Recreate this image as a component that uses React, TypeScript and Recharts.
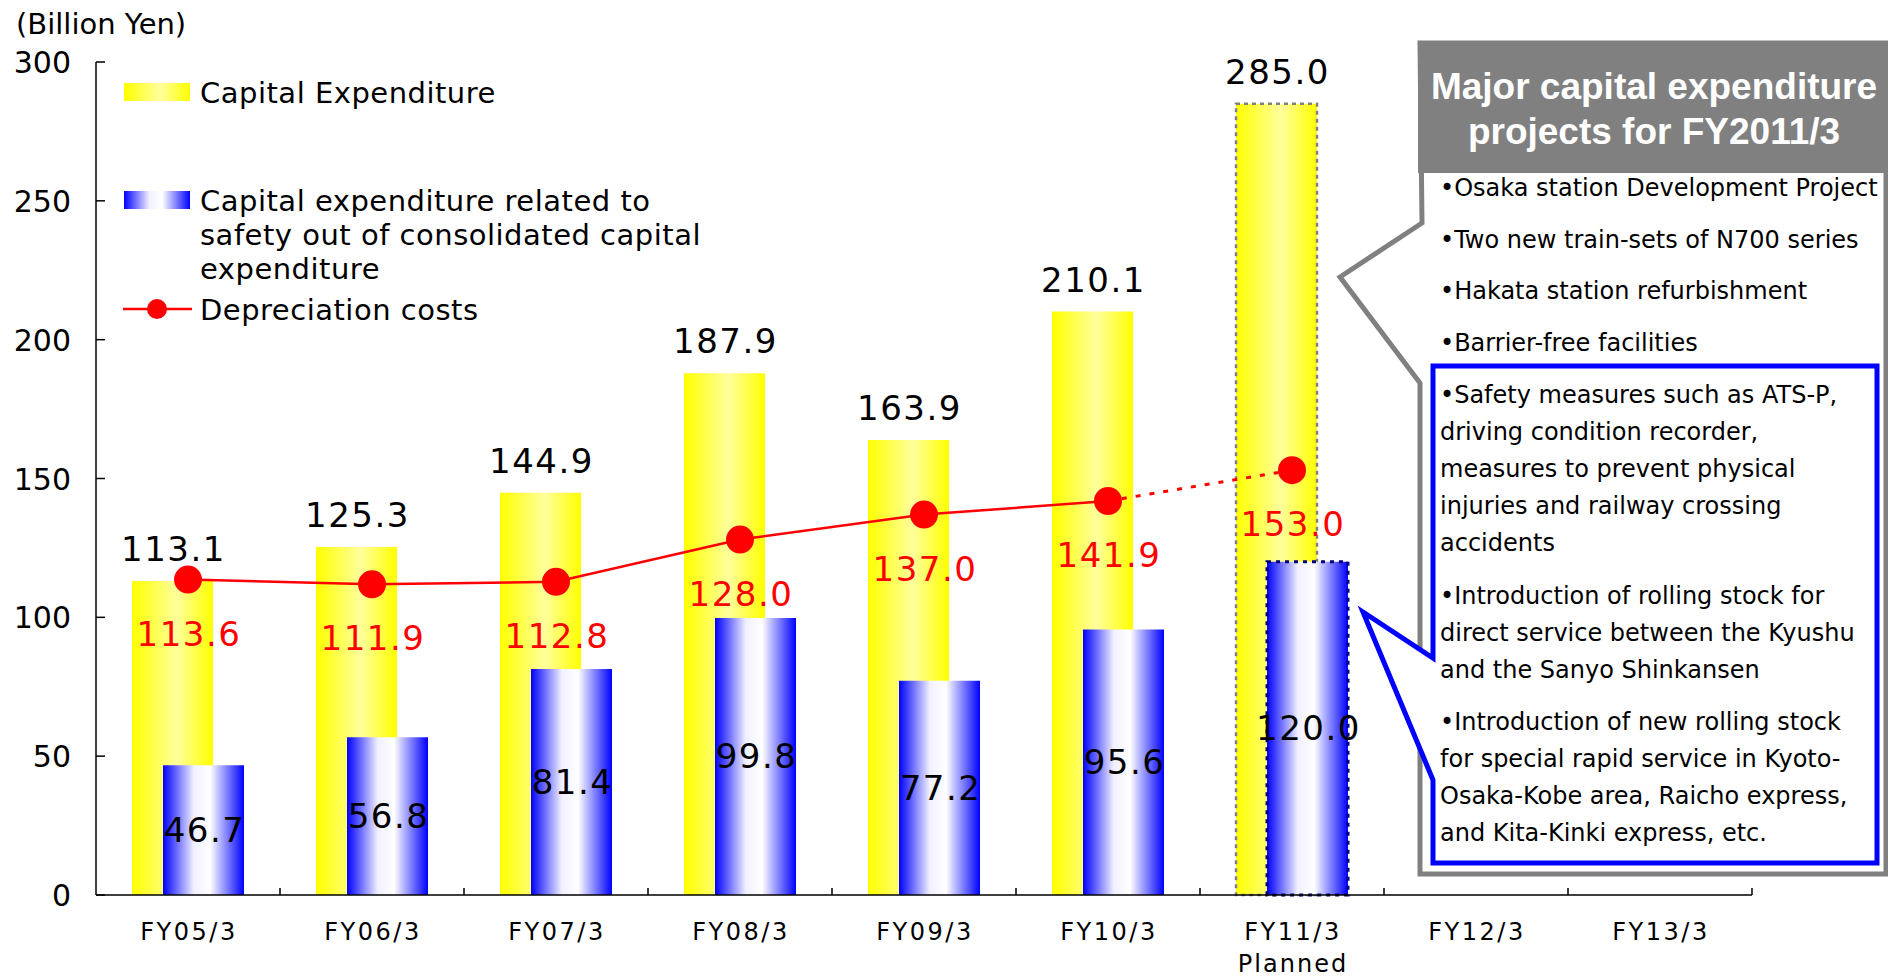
import React from 'react';
import { ComposedChart, Bar, Line, XAxis, YAxis, Cell, LabelList, Legend } from 'recharts';

const FONT = "'DejaVu Sans', Verdana, sans-serif";

// ---------- data ----------
const categories = ['FY05/3', 'FY06/3', 'FY07/3', 'FY08/3', 'FY09/3', 'FY10/3', 'FY11/3', 'FY12/3', 'FY13/3'];
const categorySubLabels = ['', '', '', '', '', '', 'Planned', '', ''];
const capex = [113.1, 125.3, 144.9, 187.9, 163.9, 210.1, 285.0, null, null];
const safetyCapex = [46.7, 56.8, 81.4, 99.8, 77.2, 95.6, 120.0, null, null];
const depreciation = [113.6, 111.9, 112.8, 128.0, 137.0, 141.9, 153.0, null, null];
const plannedFlags = [false, false, false, false, false, false, true, false, false];
const yTicks = [0, 50, 100, 150, 200, 250, 300];

const unitLabel = '(Billion Yen)';
const capexName = 'Capital Expenditure';
const safetyNameLines = ['Capital expenditure related to', 'safety out of consolidated capital', 'expenditure'];
const depName = 'Depreciation costs';

const panelTitle = ['Major capital expenditure', 'projects for FY2011/3'];
const panelGeneral = [
  '\u2022Osaka station Development Project',
  '\u2022Two new train-sets of N700 series',
  '\u2022Hakata station refurbishment',
  '\u2022Barrier-free facilities',
];
const panelSafety = [
  ['\u2022Safety measures such as ATS-P,', 'driving condition recorder,', 'measures to prevent physical', 'injuries and railway crossing', 'accidents'],
  ['\u2022Introduction of rolling stock for', 'direct service between the Kyushu', 'and the Sanyo Shinkansen'],
  ['\u2022Introduction of new rolling stock', 'for special rapid service in Kyoto-', 'Osaka-Kobe area, Raicho express,', 'and Kita-Kinki express, etc.'],
];

const chartData = categories.map((c, i) => ({
  name: c,
  capex: capex[i],
  safety: safetyCapex[i],
  depActual: plannedFlags[i] ? null : depreciation[i],
  depPlanned: plannedFlags[i] || plannedFlags[i + 1] ? depreciation[i] : null,
}));

// ---------- layout ----------
const W = 1888;
const H = 978;
const PLOT_LEFT = 96;
const PLOT_RIGHT = 1752;
const PLOT_TOP = 62;
const PLOT_BOTTOM = 895;
const Y_AXIS_W = 80;
const X_AXIS_H = 70;

const fmt = (v: any) => (v == null ? '' : Number(v).toFixed(1));

const getBox = (props: any) => {
  const vb = props.viewBox || {};
  const x = vb.x ?? props.x ?? 0;
  const y = vb.y ?? props.y ?? 0;
  const width = vb.width ?? props.width ?? 0;
  const height = vb.height ?? props.height ?? 0;
  return { x, y, width, height };
};

const CapexLabel = (props: any) => {
  if (props.value == null) return null;
  const b = getBox(props);
  const top = Math.min(b.y, b.y + b.height);
  return (
    <text x={b.x + b.width / 2 + 1} y={top - 20} textAnchor="middle" fontSize={34} letterSpacing={1.5} fontFamily={FONT} fill="#000">
      {fmt(props.value)}
    </text>
  );
};

const SafetyLabel = (props: any) => {
  if (props.value == null) return null;
  const b = getBox(props);
  return (
    <text x={b.x + b.width / 2 + 1} y={b.y + b.height / 2 + 12} textAnchor="middle" fontSize={34} letterSpacing={1.5} fontFamily={FONT} fill="#000">
      {fmt(props.value)}
    </text>
  );
};

const makeDepLabel = (onlyPlanned: boolean) => (props: any) => {
  if (props.value == null) return null;
  if (onlyPlanned && !plannedFlags[props.index]) return null;
  const b = getBox(props);
  return (
    <text x={b.x + 1} y={b.y + 66} textAnchor="middle" fontSize={34} letterSpacing={1.5} fontFamily={FONT} fill="#ff0000">
      {fmt(props.value)}
    </text>
  );
};

const XTick = (props: any) => {
  const { x, y, payload } = props;
  const band = (PLOT_RIGHT - PLOT_LEFT) / categories.length;
  const idx = payload.index ?? categories.indexOf(payload.value);
  const sub = categorySubLabels[idx];
  return (
    <g>
      <line x1={x + band / 2} x2={x + band / 2} y1={y} y2={y - 7} stroke="#000" strokeWidth={1.5} />
      <text x={x + 1} y={y + 45} textAnchor="middle" fontSize={24} letterSpacing={2.5} fontFamily={FONT} fill="#000">
        {payload.value}
      </text>
      {sub ? (
        <text x={x + 1} y={y + 77} textAnchor="middle" fontSize={24} letterSpacing={2} fontFamily={FONT} fill="#000">
          {sub}
        </text>
      ) : null}
    </g>
  );
};

const YTick = (props: any) => {
  const { x, y, payload } = props;
  return (
    <g>
      <line x1={x} x2={x + 9} y1={y} y2={y} stroke="#000" strokeWidth={1.5} />
      <text x={x - 25} y={y + 11} textAnchor="end" fontSize={30} fontFamily={FONT} fill="#000">
        {payload.value}
      </text>
    </g>
  );
};

const PlannedDot = (props: any) => {
  const { cx, cy, index } = props;
  if (!plannedFlags[index] || cx == null || cy == null) return <g key={`pd-${index}`} />;
  return <circle key={`pd-${index}`} cx={cx} cy={cy} r={14} fill="#ff0000" />;
};

const Gradients = ({ suffix }: { suffix: string }) => (
  <defs>
    <linearGradient id={`ygrad${suffix}`} x1="0" y1="0" x2="1" y2="0">
      <stop offset="0" stopColor="#ffff00" />
      <stop offset="0.55" stopColor="#ffff9c" />
      <stop offset="1" stopColor="#ffff00" />
    </linearGradient>
    <linearGradient id={`bgrad${suffix}`} x1="0" y1="0" x2="1" y2="0">
      <stop offset="0" stopColor="#0000ff" />
      <stop offset="0.38" stopColor="#f0f0ff" />
      <stop offset="0.58" stopColor="#ffffff" />
      <stop offset="1" stopColor="#0000ff" />
    </linearGradient>
  </defs>
);

const LegendContent = () => (
  <svg width={700} height={340} style={{ display: 'block', overflow: 'visible' }}>
    <Gradients suffix="L" />
    <rect x={124} y={83} width={66} height={18} fill="url(#ygradL)" />
    <text x={200} y={103} fontSize={29} letterSpacing={0.5} fontFamily={FONT} fill="#000">
      {capexName}
    </text>
    <rect x={124} y={191} width={66} height={18} fill="url(#bgradL)" />
    {safetyNameLines.map((l, i) => (
      <text key={l} x={200} y={211 + i * 34} fontSize={29} letterSpacing={0.5} fontFamily={FONT} fill="#000">
        {l}
      </text>
    ))}
    <line x1={123} x2={192} y1={309} y2={309} stroke="#ff0000" strokeWidth={2.5} />
    <circle cx={157} cy={309} r={10} fill="#ff0000" />
    <text x={200} y={320} fontSize={29} letterSpacing={0.5} fontFamily={FONT} fill="#000">
      {depName}
    </text>
  </svg>
);

const Panel = () => {
  const generalStart = 196;
  const generalStep = 51.7;
  const lineStep = 37;
  const paraGap = 52.5;
  const paraStarts: number[] = [];
  let cur = 403;
  panelSafety.forEach((p) => {
    paraStarts.push(cur);
    cur += (p.length - 1) * lineStep + paraGap;
  });
  return (
    <svg width={W} height={H} style={{ position: 'absolute', left: 0, top: 0, pointerEvents: 'none' }}>
      {/* gray callout */}
      <path d="M1420,43 H1886 V874 H1420 V383 L1340,277 L1422,223 Z" fill="#ffffff" stroke="#808080" strokeWidth={5} strokeLinejoin="miter" />
      <rect x={1418} y={41} width={470} height={132} fill="#808080" />
      {panelTitle.map((t, i) => (
        <text key={t} x={1654} y={99 + i * 45} textAnchor="middle" fontSize={37} fontWeight="bold" fontFamily="'Liberation Sans', Arial, sans-serif" fill="#ffffff">
          {t}
        </text>
      ))}
      {panelGeneral.map((t, i) => (
        <text key={t} x={1440} y={generalStart + i * generalStep} fontSize={24} fontFamily={FONT} fill="#000">
          {t}
        </text>
      ))}
      {/* blue callout */}
      <path d="M1433,366 H1877 V863 H1433 V780 L1363,612 L1433,658 Z" fill="#ffffff" stroke="#0000ff" strokeWidth={5} strokeLinejoin="miter" />
      {panelSafety.map((p, pi) =>
        p.map((t, li) => (
          <text key={`${pi}-${li}`} x={1440} y={paraStarts[pi] + li * lineStep} fontSize={24} fontFamily={FONT} fill="#000">
            {t}
          </text>
        ))
      )}
      <text x={16} y={34} fontSize={29} fontFamily={FONT} fill="#000">
        {unitLabel}
      </text>
    </svg>
  );
};

export default function App() {
  return (
    <div style={{ position: 'absolute', left: 0, top: 0, width: W, height: H, background: '#ffffff', fontFamily: FONT }}>
      <ComposedChart
        width={W}
        height={H}
        data={chartData}
        barGap={-50}
        margin={{ top: PLOT_TOP, right: W - PLOT_RIGHT, bottom: H - PLOT_BOTTOM - X_AXIS_H, left: PLOT_LEFT - Y_AXIS_W }}
      >
        <Gradients suffix="" />
        <XAxis
          dataKey="name"
          height={X_AXIS_H}
          tickLine={false}
          tickSize={0}
          tickMargin={0}
          axisLine={{ stroke: '#000', strokeWidth: 1.5 }}
          tick={<XTick />}
          interval={0}
        />
        <YAxis
          width={Y_AXIS_W}
          domain={[0, 300]}
          ticks={yTicks}
          tickLine={false}
          tickSize={0}
          tickMargin={0}
          axisLine={{ stroke: '#000', strokeWidth: 1.5 }}
          tick={<YTick />}
          interval={0}
        />
        <Legend
          layout="vertical"
          align="center"
          verticalAlign="middle"
          content={<LegendContent />}
          wrapperStyle={{ left: 0, top: 0, width: 700, height: 340 }}
        />
        <Bar dataKey="capex" name={capexName} barSize={81} fill="url(#ygrad)" isAnimationActive={false}>
          {chartData.map((d, i) => (
            <Cell
              key={`c-${i}`}
              fill="url(#ygrad)"
              stroke={plannedFlags[i] ? '#808080' : 'none'}
              strokeWidth={plannedFlags[i] ? 2.5 : 0}
              strokeDasharray={plannedFlags[i] ? '4 4' : undefined}
            />
          ))}
          <LabelList dataKey="capex" content={<CapexLabel />} />
        </Bar>
        <Bar dataKey="safety" name="Capital expenditure related to safety" barSize={81} fill="url(#bgrad)" isAnimationActive={false}>
          {chartData.map((d, i) => (
            <Cell
              key={`s-${i}`}
              fill="url(#bgrad)"
              stroke={plannedFlags[i] ? '#000080' : 'none'}
              strokeWidth={plannedFlags[i] ? 3 : 0}
              strokeDasharray={plannedFlags[i] ? '4 5' : undefined}
            />
          ))}
          <LabelList dataKey="safety" content={<SafetyLabel />} />
        </Bar>
        <Line
          dataKey="depActual"
          name={depName}
          stroke="#ff0000"
          strokeWidth={2.5}
          dot={{ r: 14, fill: '#ff0000', stroke: 'none' }}
          activeDot={false}
          isAnimationActive={false}
        >
          <LabelList dataKey="depActual" content={makeDepLabel(false)} />
        </Line>
        <Line
          dataKey="depPlanned"
          name="Depreciation costs (planned)"
          stroke="#ff0000"
          strokeWidth={3}
          strokeDasharray="5 9"
          dot={<PlannedDot />}
          activeDot={false}
          legendType="none"
          isAnimationActive={false}
        >
          <LabelList dataKey="depPlanned" content={makeDepLabel(true)} />
        </Line>
      </ComposedChart>
      <Panel />
    </div>
  );
}
